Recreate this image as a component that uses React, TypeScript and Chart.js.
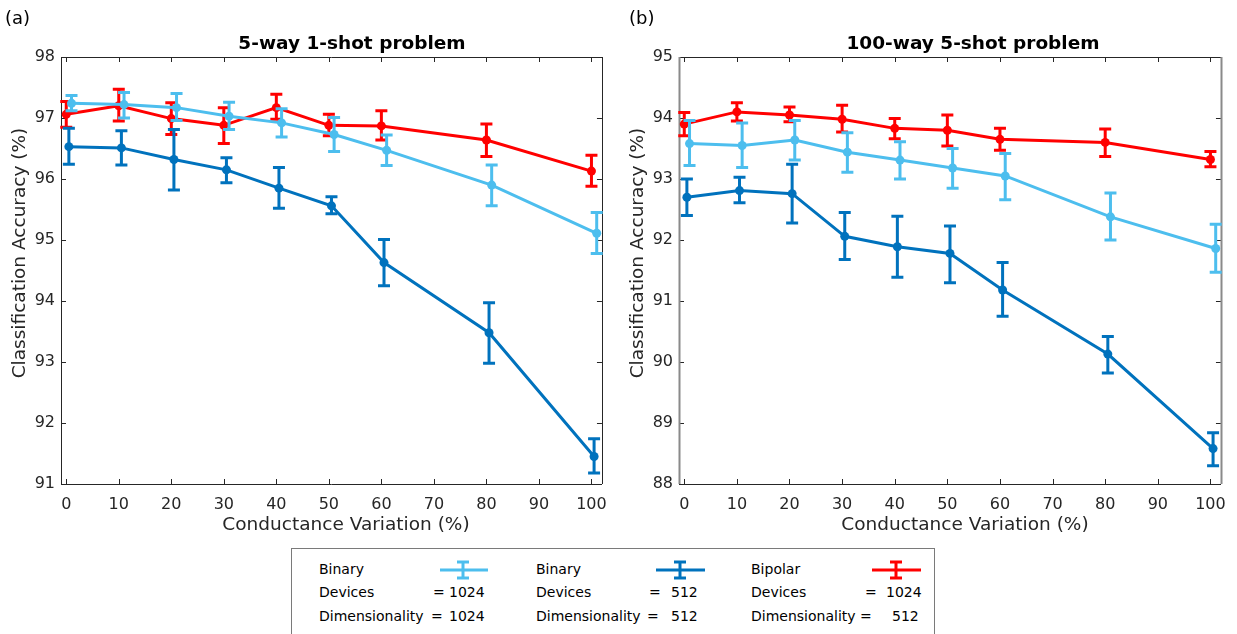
import React, { useEffect, useRef } from "react";
import { Chart, registerables } from "chart.js";

Chart.register(...registerables);

// ---------- DATA ----------
const xTickValues = [0, 10, 20, 30, 40, 50, 60, 70, 80, 90, 100];
const leftYTicks = [91, 92, 93, 94, 95, 96, 97, 98];
const rightYTicks = [88, 89, 90, 91, 92, 93, 94, 95];

// conductance variation (%) as plotted for each series (slightly staggered in the original)
const xBinary1024 = [1, 11, 21, 31, 41, 51, 61, 81, 101];
const xBinary512 = [0.5, 10.5, 20.5, 30.5, 40.5, 50.5, 60.5, 80.5, 100.5];
const xBipolar = [0, 10, 20, 30, 40, 50, 60, 80, 100];

// (a) 5-way 1-shot
const aBinary1024 = [97.24, 97.22, 97.17, 97.03, 96.92, 96.73, 96.47, 95.9, 95.11];
const aBinary1024Low = [97.12, 97.0, 96.96, 96.81, 96.69, 96.45, 96.22, 95.56, 94.78];
const aBinary1024High = [97.37, 97.42, 97.4, 97.26, 97.15, 97.01, 96.72, 96.23, 95.45];

const aBinary512 = [96.53, 96.51, 96.32, 96.15, 95.85, 95.56, 94.63, 93.48, 91.45];
const aBinary512Low = [96.24, 96.23, 95.82, 95.94, 95.52, 95.43, 94.25, 92.98, 91.18];
const aBinary512High = [96.83, 96.79, 96.81, 96.35, 96.19, 95.71, 95.01, 93.97, 91.74];

const aBipolar = [97.06, 97.2, 96.99, 96.88, 97.17, 96.88, 96.87, 96.64, 96.13];
const aBipolarLow = [96.85, 96.95, 96.73, 96.58, 96.98, 96.71, 96.64, 96.37, 95.88];
const aBipolarHigh = [97.27, 97.47, 97.25, 97.17, 97.39, 97.06, 97.12, 96.9, 96.39];

// (b) 100-way 5-shot
const bBinary1024 = [93.58, 93.55, 93.64, 93.44, 93.31, 93.18, 93.05, 92.38, 91.86];
const bBinary1024Low = [93.22, 93.19, 93.31, 93.11, 93.0, 92.85, 92.66, 92.0, 91.47];
const bBinary1024High = [93.96, 93.92, 93.96, 93.76, 93.61, 93.5, 93.42, 92.77, 92.26];

const bBinary512 = [92.7, 92.81, 92.76, 92.06, 91.89, 91.78, 91.18, 90.13, 88.58];
const bBinary512Low = [92.4, 92.61, 92.28, 91.68, 91.39, 91.3, 90.75, 89.82, 88.3];
const bBinary512High = [93.0, 93.03, 93.24, 92.45, 92.39, 92.23, 91.63, 90.42, 88.84];

const bBipolar = [93.9, 94.1, 94.05, 93.98, 93.83, 93.8, 93.65, 93.6, 93.32];
const bBipolarLow = [93.71, 93.95, 93.94, 93.77, 93.66, 93.54, 93.47, 93.37, 93.2];
const bBipolarHigh = [94.09, 94.25, 94.18, 94.21, 93.99, 94.05, 93.83, 93.82, 93.45];

// ---------- STYLE ----------
const FONT = "'DejaVu Sans', Verdana, sans-serif";
const AXIS_COLOR = "#262626";
const C_LIGHT = "#4DBEEE";
const C_DARK = "#0072BD";
const C_RED = "#FF0000";

const errorBarPlugin = {
  id: "errorBars",
  afterDatasetDraw(chart: any, args: any) {
    const ds = chart.data.datasets[args.index];
    if (!ds.errLow) return;
    const ctx = chart.ctx;
    const xs = chart.scales.x;
    const ys = chart.scales.y;
    ctx.save();
    ctx.strokeStyle = ds.borderColor;
    ctx.lineWidth = 3;
    ctx.lineCap = "butt";
    ds.data.forEach((p: any, i: number) => {
      const px = xs.getPixelForValue(p.x);
      const yl = ys.getPixelForValue(ds.errLow[i]);
      const yh = ys.getPixelForValue(ds.errHigh[i]);
      ctx.beginPath();
      ctx.moveTo(px, yl);
      ctx.lineTo(px, yh);
      ctx.moveTo(px - 6, yl);
      ctx.lineTo(px + 6, yl);
      ctx.moveTo(px - 6, yh);
      ctx.lineTo(px + 6, yh);
      ctx.stroke();
    });
    ctx.restore();
  },
};

const framePlugin = {
  id: "frame",
  beforeDatasetsDraw(chart: any, _args: any, opts: any) {
    const { left, right, top, bottom } = chart.chartArea;
    const ctx = chart.ctx;
    const xs = chart.scales.x;
    const ys = chart.scales.y;
    ctx.save();
    ctx.lineWidth = 1;
    ctx.strokeStyle = AXIS_COLOR;
    ctx.beginPath();
    xs.ticks.forEach((t: any) => {
      const px = Math.round(xs.getPixelForValue(t.value)) + 0.5;
      ctx.moveTo(px, bottom);
      ctx.lineTo(px, bottom - 5);
      ctx.moveTo(px, top);
      ctx.lineTo(px, top + 5);
    });
    ys.ticks.forEach((t: any) => {
      const py = Math.round(ys.getPixelForValue(t.value)) + 0.5;
      ctx.moveTo(left, py);
      ctx.lineTo(left + 5, py);
      ctx.moveTo(right, py);
      ctx.lineTo(right - 5, py);
    });
    ctx.stroke();
    ctx.beginPath();
    ctx.moveTo(left, Math.round(top) + 0.5);
    ctx.lineTo(right, Math.round(top) + 0.5);
    ctx.moveTo(left, Math.round(bottom) + 0.5);
    ctx.lineTo(right, Math.round(bottom) + 0.5);
    ctx.stroke();
    ctx.strokeStyle = opts.sideColor || AXIS_COLOR;
    ctx.lineWidth = opts.sideWidth || 1;
    ctx.beginPath();
    ctx.moveTo(Math.round(left) + 0.5, top);
    ctx.lineTo(Math.round(left) + 0.5, bottom);
    ctx.moveTo(Math.round(right) + 0.5, top);
    ctx.lineTo(Math.round(right) + 0.5, bottom);
    ctx.stroke();
    ctx.restore();
  },
};

function makeDataset(label: string, xs: number[], ys: number[], lo: number[], hi: number[], color: string) {
  return {
    label,
    data: xs.map((x, i) => ({ x, y: ys[i] })),
    errLow: lo,
    errHigh: hi,
    borderColor: color,
    backgroundColor: color,
    pointBackgroundColor: color,
    pointBorderColor: color,
    borderWidth: 3,
    pointRadius: 4.5,
    pointBorderWidth: 0,
    tension: 0,
    clip: false,
  };
}

type PanelProps = {
  width: number;
  height: number;
  yMin: number;
  yMax: number;
  yTicks: number[];
  datasets: any[];
  paddingRight: number;
  sideColor: string;
  sideWidth: number;
};

function Panel(props: PanelProps) {
  const ref = useRef<HTMLCanvasElement | null>(null);
  useEffect(() => {
    if (!ref.current) return;
    const chart = new Chart(ref.current, {
      type: "line",
      data: { datasets: props.datasets },
      plugins: [framePlugin, errorBarPlugin],
      options: {
        animation: false,
        responsive: false,
        devicePixelRatio: 1,
        layout: { padding: { top: 57, right: props.paddingRight, left: 0, bottom: 0 } },
        plugins: {
          legend: { display: false },
          tooltip: { enabled: false },
          title: { display: false },
          frame: { sideColor: props.sideColor, sideWidth: props.sideWidth },
        } as any,
        scales: {
          x: {
            type: "linear",
            min: -1,
            max: 102,
            afterBuildTicks: (s: any) => {
              s.ticks = xTickValues.map((v) => ({ value: v }));
            },
            afterFit: (s: any) => {
              s.height = 56;
            },
            grid: { display: false, drawTicks: false },
            border: { display: false },
            ticks: {
              padding: 11,
              autoSkip: false,
              maxRotation: 0,
              color: AXIS_COLOR,
              font: { family: FONT, size: 16 },
              callback: (v: any) => String(v),
            },
          },
          y: {
            type: "linear",
            min: props.yMin,
            max: props.yMax,
            afterBuildTicks: (s: any) => {
              s.ticks = props.yTicks.map((v) => ({ value: v }));
            },
            afterFit: (s: any) => {
              s.width = 61;
            },
            grid: { display: false, drawTicks: false },
            border: { display: false },
            ticks: {
              padding: 6,
              color: AXIS_COLOR,
              font: { family: FONT, size: 16 },
              callback: (v: any) => String(v),
            },
          },
        },
      } as any,
    });
    return () => chart.destroy();
  }, []);
  return <canvas ref={ref} width={props.width} height={props.height} style={{ display: "block" }} />;
}

const textBase: React.CSSProperties = {
  position: "absolute",
  fontFamily: FONT,
  color: AXIS_COLOR,
  whiteSpace: "nowrap",
  lineHeight: "22px",
};

function Centered({ x, y, size, bold, rotate, children }: any) {
  return (
    <div
      style={{
        ...textBase,
        left: x,
        top: y,
        fontSize: size,
        fontWeight: bold ? "bold" : "normal",
        color: bold ? "#000" : AXIS_COLOR,
        transform: `translate(-50%, -50%)${rotate ? " rotate(-90deg)" : ""}`,
      }}
    >
      {children}
    </div>
  );
}

function LegendIcon({ x1, x2, cx, color }: any) {
  return (
    <svg style={{ position: "absolute", left: 0, top: 0, overflow: "visible" }} width={1} height={1}>
      <line x1={x1} y1={570} x2={x2} y2={570} stroke={color} strokeWidth={3} />
      <line x1={cx} y1={562} x2={cx} y2={578} stroke={color} strokeWidth={3} />
      <line x1={cx - 6} y1={562} x2={cx + 6} y2={562} stroke={color} strokeWidth={3} />
      <line x1={cx - 6} y1={578} x2={cx + 6} y2={578} stroke={color} strokeWidth={3} />
    </svg>
  );
}

function LText({ x, y, children }: any) {
  return (
    <div style={{ ...textBase, left: x, top: y - 11, fontSize: 14, color: "#000" }}>{children}</div>
  );
}

const legendLabels = ["Binary", "Binary", "Bipolar"];
const legendDevices = ["1024", "512", "1024"];
const legendDims = ["1024", "512", "512"];

export default function App() {
  const left = [
    makeDataset("Binary 1024", xBinary1024, aBinary1024, aBinary1024Low, aBinary1024High, C_LIGHT),
    makeDataset("Binary 512", xBinary512, aBinary512, aBinary512Low, aBinary512High, C_DARK),
    makeDataset("Bipolar 1024", xBipolar, aBipolar, aBipolarLow, aBipolarHigh, C_RED),
  ];
  const right = [
    makeDataset("Binary 1024", xBinary1024, bBinary1024, bBinary1024Low, bBinary1024High, C_LIGHT),
    makeDataset("Binary 512", xBinary512, bBinary512, bBinary512Low, bBinary512High, C_DARK),
    makeDataset("Bipolar 1024", xBipolar, bBipolar, bBipolarLow, bBipolarHigh, C_RED),
  ];
  const colX = [319, 536, 751];
  const eqDevX = [433, 649, 865];
  const eqDimX = [431, 647, 860];
  const valDevX = [449, 671, 886];
  const valDimX = [449, 671, 892];
  const iconX = [
    [440, 488, 463],
    [656, 705, 680],
    [872, 921, 896],
  ];
  const iconColors = [C_LIGHT, C_DARK, C_RED];
  return (
    <div
      style={{
        position: "fixed",
        left: 0,
        top: 0,
        width: 1237,
        height: 634,
        background: "#fff",
        overflow: "hidden",
      }}
    >
      <div style={{ position: "absolute", left: 0, top: 0 }}>
        <Panel width={618} height={540} yMin={91} yMax={98} yTicks={leftYTicks} datasets={left} paddingRight={14} sideColor={AXIS_COLOR} sideWidth={1} />
      </div>
      <div style={{ position: "absolute", left: 618, top: 0 }}>
        <Panel width={619} height={540} yMin={88} yMax={95} yTicks={rightYTicks} datasets={right} paddingRight={15} sideColor="#8a8a8a" sideWidth={2} />
      </div>

      <div style={{ ...textBase, left: 5, top: 7, fontSize: 18, color: "#000" }}>(a)</div>
      <div style={{ ...textBase, left: 629, top: 7, fontSize: 18, color: "#000" }}>(b)</div>

      <Centered x={352} y={43} size={18.5} bold>5-way 1-shot problem</Centered>
      <Centered x={973} y={43} size={18.5} bold>100-way 5-shot problem</Centered>

      <Centered x={346} y={524} size={18.5}>Conductance Variation (%)</Centered>
      <Centered x={965} y={524} size={18.5}>Conductance Variation (%)</Centered>

      <Centered x={19} y={253} size={18.5} rotate>Classification Accuracy (%)</Centered>
      <Centered x={637} y={253} size={18.5} rotate>Classification Accuracy (%)</Centered>

      <div
        style={{
          position: "absolute",
          left: 291,
          top: 548,
          width: 642,
          height: 120,
          border: "1px solid #7a7a7a",
          background: "#fff",
        }}
      />
      {legendLabels.map((lab, i) => (
        <React.Fragment key={i}>
          <LText x={colX[i]} y={569}>{lab}</LText>
          <LText x={colX[i]} y={592}>Devices</LText>
          <LText x={colX[i]} y={616}>Dimensionality</LText>
          <LText x={eqDevX[i]} y={592}>=</LText>
          <LText x={eqDimX[i]} y={616}>=</LText>
          <LText x={valDevX[i]} y={592}>{legendDevices[i]}</LText>
          <LText x={valDimX[i]} y={616}>{legendDims[i]}</LText>
          <LegendIcon x1={iconX[i][0]} x2={iconX[i][1]} cx={iconX[i][2]} color={iconColors[i]} />
        </React.Fragment>
      ))}
    </div>
  );
}
